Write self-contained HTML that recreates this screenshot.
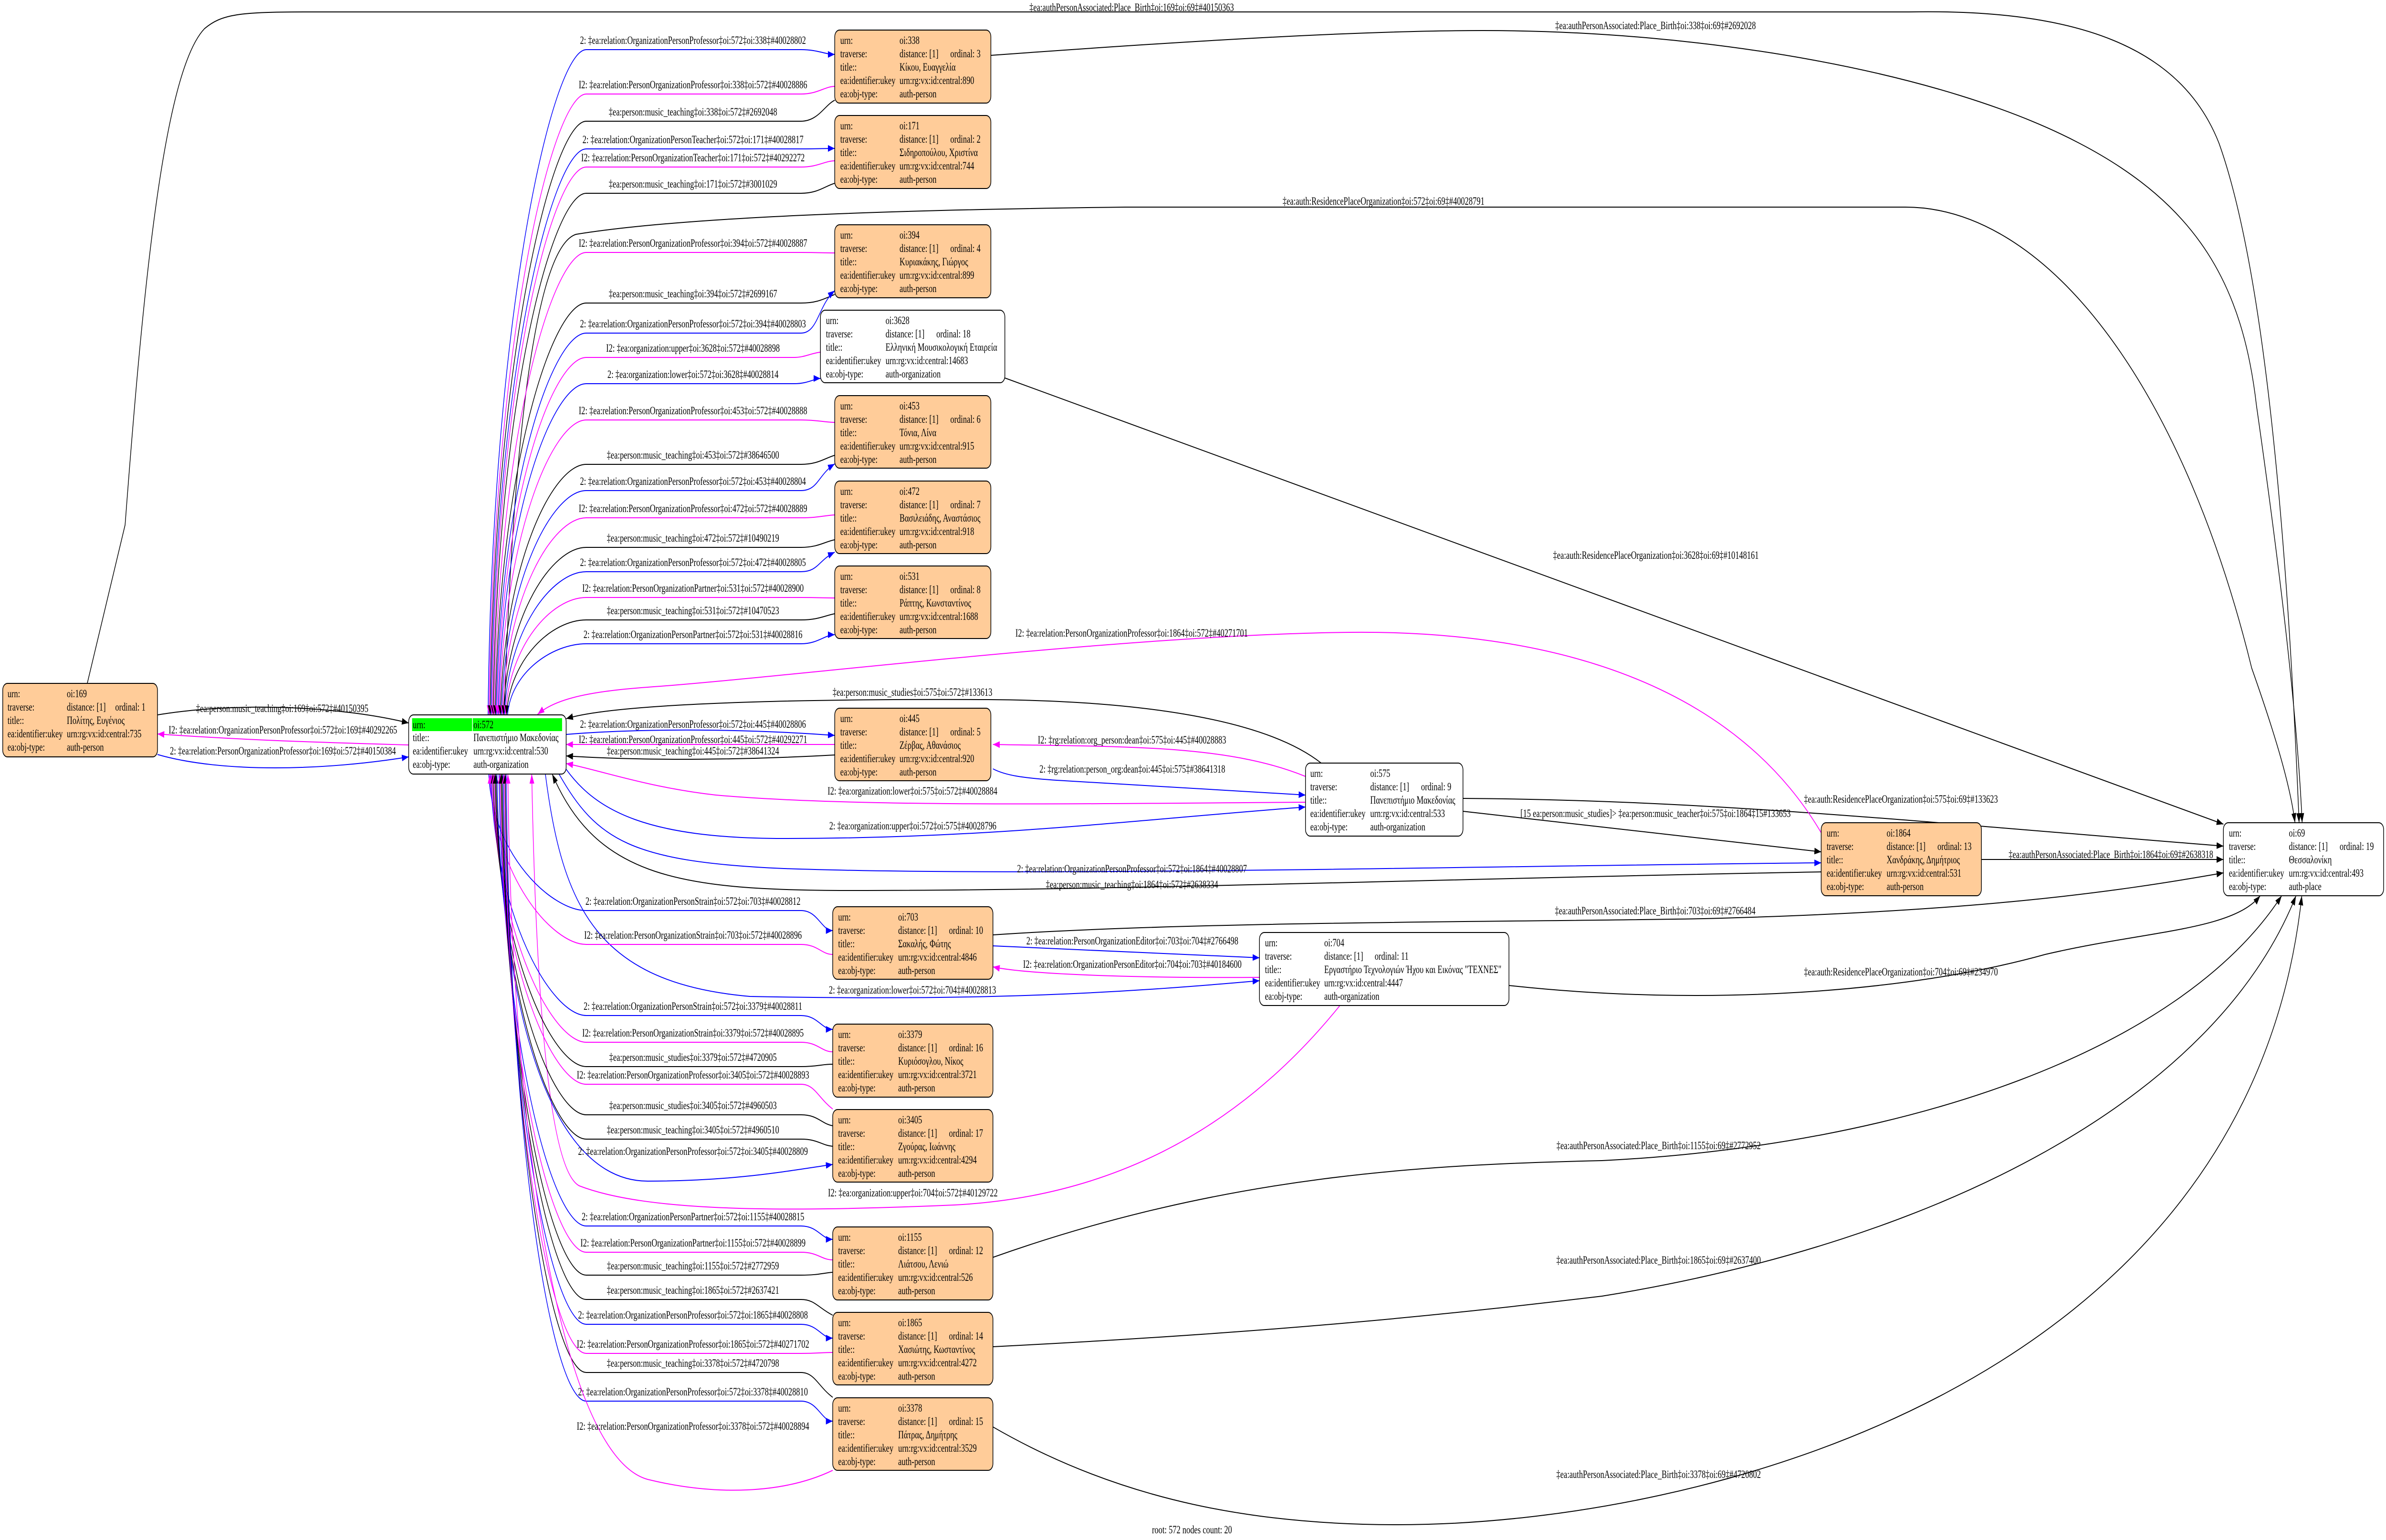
<!DOCTYPE html>
<html><head><meta charset="utf-8"><style>
html,body{margin:0;padding:0;background:#fff;width:100%;height:100%;overflow:hidden;}
svg{display:block;position:fixed;left:0;top:0;width:100vw;height:100vh;}
text{font-family:"Liberation Serif","DejaVu Serif",serif;font-size:23px;fill:#000;}
.l{text-anchor:middle;}
.e{fill:none;stroke-width:2;}
.k{stroke:#000;}.b{stroke:#0000ff;}.m{stroke:#ff00ff;}
.n{fill:#ffcc99;stroke:#000;stroke-width:2;}
.w{fill:#fff;stroke:#000;stroke-width:2;}
</style></head><body>
<svg viewBox="0 0 7000 3227" preserveAspectRatio="none" xmlns="http://www.w3.org/2000/svg" overflow="hidden">
<defs>
<marker id="ak" markerWidth="20" markerHeight="14" refX="20" refY="7" orient="auto" markerUnits="userSpaceOnUse"><path d="M0,0L20,7L0,14z" fill="#000"/></marker>
<marker id="ab" markerWidth="20" markerHeight="14" refX="20" refY="7" orient="auto" markerUnits="userSpaceOnUse"><path d="M0,0L20,7L0,14z" fill="#0000ff"/></marker>
<marker id="am" markerWidth="20" markerHeight="14" refX="20" refY="7" orient="auto" markerUnits="userSpaceOnUse"><path d="M0,0L20,7L0,14z" fill="#ff00ff"/></marker>
</defs>

<path class="e k" marker-end="url(#ak)" d="M256,1432 L367,1100 C420,600 480,150 600,60 C650,30 700,25 900,25 L5600,25 C6100,18 6400,100 6510,300 C6640,560 6710,1100 6745,1724"/>
<text class="l" x="3320" y="23">‡ea:authPersonAssociated:Place_Birth‡oi:169‡oi:69‡#40150363</text>
<path class="e k" marker-end="url(#ak)" d="M2907,116 C3500,85 4000,64 4350,64 C5000,64 5700,150 6100,300 C6450,430 6580,600 6620,850 C6690,1200 6740,1500 6754,1724"/>
<text class="l" x="4857" y="61">‡ea:authPersonAssociated:Place_Birth‡oi:338‡oi:69‡#2692028</text>
<path class="e k" marker-end="url(#ak)" d="M1480,1498 C1500,1000 1560,520 1690,491 C2000,455 2600,440 3300,434 L5590,434 C6000,434 6400,800 6606,1400 C6680,1550 6720,1650 6733,1724"/>
<text class="l" x="4059" y="429">‡ea:auth:ResidencePlaceOrganization‡oi:572‡oi:69‡#40028791</text>
<path class="e k" marker-end="url(#ak)" d="M2948,792 L6523,1727"/>
<text class="l" x="4858" y="1171">‡ea:auth:ResidencePlaceOrganization‡oi:3628‡oi:69‡#10148161</text>
<path class="e k" marker-end="url(#ak)" d="M4292,1673 C5000,1676 5600,1720 6523,1773"/>
<text class="l" x="5577" y="1682">‡ea:auth:ResidencePlaceOrganization‡oi:575‡oi:69‡#133623</text>
<path class="e k" marker-end="url(#ak)" d="M4292,1700 L5343,1785"/>
<text class="l" x="4857" y="1712">[15 ea:person:music_studies]&gt; ‡ea:person:music_teacher‡oi:575‡oi:1864‡15#133653</text>
<path class="e k" marker-end="url(#ak)" d="M5813,1801 L6523,1801"/>
<text class="l" x="6193" y="1798">‡ea:authPersonAssociated:Place_Birth‡oi:1864‡oi:69‡#2638318</text>
<path class="e k" marker-end="url(#ak)" d="M2913,1959 C3500,1930 4500,1932 5000,1925 C5800,1910 6200,1870 6523,1829"/>
<text class="l" x="4856" y="1916">‡ea:authPersonAssociated:Place_Birth‡oi:703‡oi:69‡#2766484</text>
<path class="e k" marker-end="url(#ak)" d="M4427,2065 C5000,2110 5600,2080 6000,2000 C6300,1950 6550,1950 6631,1877"/>
<text class="l" x="5577" y="2044">‡ea:auth:ResidencePlaceOrganization‡oi:704‡oi:69‡#234970</text>
<path class="e k" marker-end="url(#ak)" d="M2912,2635 C3600,2460 4200,2440 4700,2432 C5600,2400 6400,2200 6694,1877"/>
<text class="l" x="4866" y="2408">‡ea:authPersonAssociated:Place_Birth‡oi:1155‡oi:69‡#2772952</text>
<path class="e k" marker-end="url(#ak)" d="M2913,2822 C3800,2790 4300,2750 4700,2716 C5700,2600 6500,2300 6736,1877"/>
<text class="l" x="4866" y="2648">‡ea:authPersonAssociated:Place_Birth‡oi:1865‡oi:69‡#2637400</text>
<path class="e k" marker-end="url(#ak)" d="M2913,2990 C3300,3150 3700,3195 4100,3195 C5000,3195 6600,2900 6753,1877"/>
<text class="l" x="4866" y="3097">‡ea:authPersonAssociated:Place_Birth‡oi:3378‡oi:69‡#4720802</text>

<path class="e k" marker-end="url(#ak)" d="M462,1498 C700,1470 1000,1480 1199,1515"/>
<text class="l" x="828" y="1492">‡ea:person:music_teaching‡oi:169‡oi:572‡#40150395</text>
<path class="e m" marker-end="url(#am)" d="M1199,1561 C900,1555 700,1550 462,1538"/>
<text class="l" x="830" y="1537">I2: ‡ea:relation:OrganizationPersonProfessor‡oi:572‡oi:169‡#40292265</text>
<path class="e b" marker-end="url(#ab)" d="M462,1581 C650,1620 950,1615 1199,1586"/>
<text class="l" x="830" y="1581">2: ‡ea:relation:PersonOrganizationProfessor‡oi:169‡oi:572‡#40150384</text>

<path class="e b" marker-end="url(#ab)" d="M1432,1498 C1442,662 1620,104 1720,104 L2350,104 C2400,104 2420,114 2449,114"/>
<text class="l" x="2033" y="92">2: ‡ea:relation:OrganizationPersonProfessor‡oi:572‡oi:338‡#40028802</text>
<path class="e m" marker-end="url(#am)" d="M2449,181 C2420,181 2400,197 2350,197 L1720,197 C1620,197 1445,717 1435,1498"/>
<text class="l" x="2033" y="185">I2: ‡ea:relation:PersonOrganizationProfessor‡oi:338‡oi:572‡#40028886</text>
<path class="e k" marker-end="url(#ak)" d="M2449,210 C2420,220 2400,254 2350,254 L1720,254 C1620,254 1448,752 1438,1498"/>
<text class="l" x="2033" y="242">‡ea:person:music_teaching‡oi:338‡oi:572‡#2692048</text>
<path class="e b" marker-end="url(#ab)" d="M1441,1498 C1451,786 1620,312 1720,312 L2350,312 C2400,312 2420,311 2449,311"/>
<text class="l" x="2033" y="300">2: ‡ea:relation:OrganizationPersonTeacher‡oi:572‡oi:171‡#40028817</text>
<path class="e m" marker-end="url(#am)" d="M2449,337 C2420,337 2400,350 2350,350 L1720,350 C1620,350 1454,809 1444,1498"/>
<text class="l" x="2033" y="338">I2: ‡ea:relation:PersonOrganizationTeacher‡oi:171‡oi:572‡#40292272</text>
<path class="e k" marker-end="url(#ak)" d="M2449,384 C2420,390 2400,405 2350,405 L1720,405 C1620,405 1457,842 1447,1498"/>
<text class="l" x="2033" y="393">‡ea:person:music_teaching‡oi:171‡oi:572‡#3001029</text>
<path class="e m" marker-end="url(#am)" d="M2449,530 C2420,530 2400,529 2350,529 L1720,529 C1620,529 1460,917 1450,1498"/>
<text class="l" x="2033" y="517">I2: ‡ea:relation:PersonOrganizationProfessor‡oi:394‡oi:572‡#40028887</text>
<path class="e k" marker-end="url(#ak)" d="M2449,617 C2420,625 2400,635 2350,635 L1720,635 C1620,635 1463,980 1453,1498"/>
<text class="l" x="2033" y="623">‡ea:person:music_teaching‡oi:394‡oi:572‡#2699167</text>
<path class="e b" marker-end="url(#ab)" d="M1456,1498 C1466,1018 1620,698 1720,698 L2350,698 C2400,698 2400,640 2449,609"/>
<text class="l" x="2033" y="686">2: ‡ea:relation:OrganizationPersonProfessor‡oi:572‡oi:394‡#40028803</text>
<path class="e m" marker-end="url(#am)" d="M2407,738 C2380,740 2360,749 2330,749 L1720,749 C1620,749 1469,1049 1459,1498"/>
<text class="l" x="2033" y="737">I2: ‡ea:organization:upper‡oi:3628‡oi:572‡#40028898</text>
<path class="e b" marker-end="url(#ab)" d="M1462,1498 C1472,1082 1620,804 1720,804 L2330,804 C2370,804 2390,793 2407,793"/>
<text class="l" x="2033" y="792">2: ‡ea:organization:lower‡oi:572‡oi:3628‡#40028814</text>
<path class="e m" marker-end="url(#am)" d="M2449,885 C2420,885 2400,880 2350,880 L1720,880 C1620,880 1475,1127 1465,1498"/>
<text class="l" x="2033" y="868">I2: ‡ea:relation:PersonOrganizationProfessor‡oi:453‡oi:572‡#40028888</text>
<path class="e k" marker-end="url(#ak)" d="M2449,954 C2420,960 2400,973 2350,973 L1720,973 C1620,973 1478,1183 1468,1498"/>
<text class="l" x="2033" y="961">‡ea:person:music_teaching‡oi:453‡oi:572‡#38646500</text>
<path class="e b" marker-end="url(#ab)" d="M1471,1498 C1481,1216 1620,1028 1720,1028 L2350,1028 C2400,1028 2400,995 2449,972"/>
<text class="l" x="2033" y="1016">2: ‡ea:relation:OrganizationPersonProfessor‡oi:572‡oi:453‡#40028804</text>
<path class="e m" marker-end="url(#am)" d="M2449,1079 C2420,1080 2400,1085 2350,1085 L1720,1085 C1620,1085 1484,1250 1474,1498"/>
<text class="l" x="2033" y="1073">I2: ‡ea:relation:PersonOrganizationProfessor‡oi:472‡oi:572‡#40028889</text>
<path class="e k" marker-end="url(#ak)" d="M2449,1131 C2420,1135 2400,1147 2350,1147 L1720,1147 C1620,1147 1487,1287 1477,1498"/>
<text class="l" x="2033" y="1135">‡ea:person:music_teaching‡oi:472‡oi:572‡#10490219</text>
<path class="e b" marker-end="url(#ab)" d="M1480,1498 C1490,1318 1620,1198 1720,1198 L2350,1198 C2400,1198 2400,1175 2449,1157"/>
<text class="l" x="2033" y="1186">2: ‡ea:relation:OrganizationPersonProfessor‡oi:572‡oi:472‡#40028805</text>
<path class="e m" marker-end="url(#am)" d="M2449,1253 C2420,1253 2400,1252 2350,1252 L1720,1252 C1620,1252 1493,1350 1483,1498"/>
<text class="l" x="2033" y="1240">I2: ‡ea:relation:PersonOrganizationPartner‡oi:531‡oi:572‡#40028900</text>
<path class="e k" marker-end="url(#ak)" d="M2449,1286 C2420,1290 2400,1299 2350,1299 L1720,1299 C1620,1299 1496,1379 1486,1498"/>
<text class="l" x="2033" y="1287">‡ea:person:music_teaching‡oi:531‡oi:572‡#10470523</text>
<path class="e b" marker-end="url(#ab)" d="M1489,1498 C1499,1409 1620,1349 1720,1349 L2350,1349 C2400,1349 2420,1330 2449,1330"/>
<text class="l" x="2033" y="1337">2: ‡ea:relation:OrganizationPersonPartner‡oi:572‡oi:531‡#40028816</text>

<path class="e m" marker-end="url(#am)" d="M5343,1745 C5100,1450 4600,1320 3959,1325 C3300,1330 2300,1420 1900,1440 C1700,1450 1620,1470 1577,1497"/>
<text class="l" x="3320" y="1334">I2: ‡ea:relation:PersonOrganizationProfessor‡oi:1864‡oi:572‡#40271701</text>
<path class="e k" marker-end="url(#ak)" d="M3876,1599 C3700,1500 3300,1468 2900,1466 C2300,1464 1800,1475 1661,1506"/>
<text class="l" x="2677" y="1458">‡ea:person:music_studies‡oi:575‡oi:572‡#133613</text>
<path class="e b" marker-end="url(#ab)" d="M1661,1539 C1900,1525 2200,1528 2449,1541"/>
<text class="l" x="2033" y="1525">2: ‡ea:relation:OrganizationPersonProfessor‡oi:572‡oi:445‡#40028806</text>
<path class="e m" marker-end="url(#am)" d="M2449,1560 L1661,1560"/>
<text class="l" x="2033" y="1557">I2: ‡ea:relation:PersonOrganizationProfessor‡oi:445‡oi:572‡#40292271</text>
<path class="e k" marker-end="url(#ak)" d="M2449,1582 C2200,1592 1900,1595 1661,1584"/>
<text class="l" x="2033" y="1581">‡ea:person:music_teaching‡oi:445‡oi:572‡#38641324</text>
<path class="e m" marker-end="url(#am)" d="M3830,1627 C3600,1560 3300,1565 2913,1560"/>
<text class="l" x="3321" y="1558">I2: ‡rg:relation:org_person:dean‡oi:575‡oi:445‡#40028883</text>
<path class="e b" marker-end="url(#ab)" d="M2913,1611 C2950,1625 3000,1630 3100,1635 L3830,1666"/>
<text class="l" x="3322" y="1619">2: ‡rg:relation:person_org:dean‡oi:445‡oi:575‡#38641318</text>
<path class="e m" marker-end="url(#am)" d="M3830,1681 C3200,1684 2500,1692 2100,1666 C1900,1650 1750,1612 1661,1600"/>
<text class="l" x="2677" y="1665">I2: ‡ea:organization:lower‡oi:575‡oi:572‡#40028884</text>
<path class="e b" marker-end="url(#ab)" d="M1661,1612 C1750,1700 1900,1757 2300,1757 C2900,1757 3300,1720 3830,1691"/>
<text class="l" x="2678" y="1738">2: ‡ea:organization:upper‡oi:572‡oi:575‡#40028796</text>
<path class="e b" marker-end="url(#ab)" d="M1640,1622 C1750,1760 1850,1806 2300,1820 C3000,1838 4300,1815 5343,1808"/>
<text class="l" x="3321" y="1828">2: ‡ea:relation:OrganizationPersonProfessor‡oi:572‡oi:1864‡#40028807</text>
<path class="e k" marker-end="url(#ak)" d="M5343,1827 C4300,1840 3300,1866 2500,1866 C2000,1866 1750,1840 1620,1622"/>
<text class="l" x="3321" y="1861">‡ea:person:music_teaching‡oi:1864‡oi:572‡#2638334</text>
<path class="e b" marker-end="url(#ab)" d="M2913,1982 L3695,2007"/>
<text class="l" x="3322" y="1979">2: ‡ea:relation:PersonOrganizationEditor‡oi:703‡oi:704‡#2766498</text>
<path class="e m" marker-end="url(#am)" d="M3695,2048 C3300,2050 3000,2040 2913,2026"/>
<text class="l" x="3322" y="2028">I2: ‡ea:relation:OrganizationPersonEditor‡oi:704‡oi:703‡#40184600</text>
<path class="e b" marker-end="url(#ab)" d="M1600,1622 C1650,1900 1750,2060 2200,2088 C2900,2098 3300,2080 3695,2055"/>
<text class="l" x="2677" y="2082">2: ‡ea:organization:lower‡oi:572‡oi:704‡#40028813</text>
<path class="e m" marker-end="url(#am)" d="M3931,2107 C3600,2400 3200,2510 2800,2525 C2300,2540 1900,2540 1700,2485 C1600,2450 1570,2000 1560,1622"/>
<text class="l" x="2678" y="2507">I2: ‡ea:organization:upper‡oi:704‡oi:572‡#40129722</text>

<path class="e b" marker-end="url(#ab)" d="M1434,1622 C1444,1794 1620,1908 1720,1908 L2350,1908 C2400,1908 2410,1950 2443,1950"/>
<text class="l" x="2033" y="1896">2: ‡ea:relation:OrganizationPersonStrain‡oi:572‡oi:703‡#40028812</text>
<path class="e m" marker-end="url(#am)" d="M2443,2000 C2410,2000 2400,1979 2350,1979 L1720,1979 C1620,1979 1447,1836 1437,1622"/>
<text class="l" x="2033" y="1967">I2: ‡ea:relation:PersonOrganizationStrain‡oi:703‡oi:572‡#40028896</text>
<path class="e b" marker-end="url(#ab)" d="M1440,1622 C1450,1926 1620,2128 1720,2128 L2350,2128 C2400,2128 2410,2157 2443,2157"/>
<text class="l" x="2033" y="2116">2: ‡ea:relation:OrganizationPersonStrain‡oi:572‡oi:3379‡#40028811</text>
<path class="e m" marker-end="url(#am)" d="M2443,2204 C2410,2204 2400,2184 2350,2184 L1720,2184 C1620,2184 1453,1959 1443,1622"/>
<text class="l" x="2033" y="2172">I2: ‡ea:relation:PersonOrganizationStrain‡oi:3379‡oi:572‡#40028895</text>
<path class="e k" marker-end="url(#ak)" d="M2443,2230 C2410,2230 2400,2235 2350,2235 L1720,2235 C1620,2235 1456,1990 1446,1622"/>
<text class="l" x="2033" y="2223">‡ea:person:music_studies‡oi:3379‡oi:572‡#4720905</text>
<path class="e m" marker-end="url(#am)" d="M2443,2324 C2400,2300 2390,2272 2350,2272 L1720,2272 C1620,2272 1459,2012 1449,1622"/>
<text class="l" x="2033" y="2260">I2: ‡ea:relation:PersonOrganizationProfessor‡oi:3405‡oi:572‡#40028893</text>
<path class="e k" marker-end="url(#ak)" d="M2443,2359 C2410,2355 2400,2336 2350,2336 L1720,2336 C1620,2336 1462,2050 1452,1622"/>
<text class="l" x="2033" y="2324">‡ea:person:music_studies‡oi:3405‡oi:572‡#4960503</text>
<path class="e k" marker-end="url(#ak)" d="M2443,2402 C2410,2400 2400,2387 2350,2387 L1720,2387 C1620,2387 1465,2081 1455,1622"/>
<text class="l" x="2033" y="2375">‡ea:person:music_teaching‡oi:3405‡oi:572‡#4960510</text>
<path class="e b" marker-end="url(#ab)" d="M1458,1622 C1468,2134 1620,2475 1900,2475 C2150,2475 2300,2455 2443,2440"/>
<text class="l" x="2033" y="2420">2: ‡ea:relation:OrganizationPersonProfessor‡oi:572‡oi:3405‡#40028809</text>
<path class="e b" marker-end="url(#ab)" d="M1464,1622 C1474,2190 1620,2569 1720,2569 L2350,2569 C2400,2569 2410,2597 2443,2597"/>
<text class="l" x="2033" y="2557">2: ‡ea:relation:OrganizationPersonPartner‡oi:572‡oi:1155‡#40028815</text>
<path class="e m" marker-end="url(#am)" d="M2443,2640 C2410,2640 2400,2624 2350,2624 L1720,2624 C1620,2624 1477,2223 1467,1622"/>
<text class="l" x="2033" y="2612">I2: ‡ea:relation:PersonOrganizationPartner‡oi:1155‡oi:572‡#40028899</text>
<path class="e k" marker-end="url(#ak)" d="M2443,2666 C2410,2668 2400,2672 2350,2672 L1720,2672 C1620,2672 1480,2252 1470,1622"/>
<text class="l" x="2033" y="2660">‡ea:person:music_teaching‡oi:1155‡oi:572‡#2772959</text>
<path class="e k" marker-end="url(#ak)" d="M2443,2756 C2400,2740 2390,2723 2350,2723 L1720,2723 C1620,2723 1483,2283 1473,1622"/>
<text class="l" x="2033" y="2711">‡ea:person:music_teaching‡oi:1865‡oi:572‡#2637421</text>
<path class="e b" marker-end="url(#ab)" d="M1476,1622 C1486,2314 1620,2775 1720,2775 L2350,2775 C2400,2775 2410,2804 2443,2804"/>
<text class="l" x="2033" y="2763">2: ‡ea:relation:OrganizationPersonProfessor‡oi:572‡oi:1865‡#40028808</text>
<path class="e m" marker-end="url(#am)" d="M2443,2834 C2410,2834 2400,2836 2350,2836 L1720,2836 C1620,2836 1489,2350 1479,1622"/>
<text class="l" x="2033" y="2824">I2: ‡ea:relation:PersonOrganizationProfessor‡oi:1865‡oi:572‡#40271702</text>
<path class="e k" marker-end="url(#ak)" d="M2443,2928 C2400,2905 2390,2876 2350,2876 L1720,2876 C1620,2876 1492,2374 1482,1622"/>
<text class="l" x="2033" y="2864">‡ea:person:music_teaching‡oi:3378‡oi:572‡#4720798</text>
<path class="e b" marker-end="url(#ab)" d="M1485,1622 C1495,2410 1620,2936 1720,2936 L2350,2936 C2400,2936 2410,2978 2443,2978"/>
<text class="l" x="2033" y="2924">2: ‡ea:relation:OrganizationPersonProfessor‡oi:572‡oi:3378‡#40028810</text>
<path class="e m" marker-end="url(#am)" d="M2443,3081 C2300,3130 2100,3135 1900,3100 C1650,3050 1500,2400 1490,1622"/>
<text class="l" x="2033" y="2996">I2: ‡ea:relation:PersonOrganizationProfessor‡oi:3378‡oi:572‡#40028894</text>

<g transform="translate(8,1432)"><rect class="n" width="454" height="154" rx="14"/>
<text x="14" y="29">urn:</text><text x="188" y="29">oi:169</text>
<text x="14" y="57">traverse:</text><text x="188" y="57">distance: [1]</text><text x="330" y="57">ordinal: 1</text>
<text x="14" y="85">title::</text><text x="188" y="85">Πολίτης, Ευγένιος</text>
<text x="14" y="113">ea:identifier:ukey</text><text x="188" y="113">urn:rg:vx:id:central:735</text>
<text x="14" y="141">ea:obj-type:</text><text x="188" y="141">auth-person</text></g>

<g transform="translate(1199,1498)"><rect class="w" width="462" height="124" rx="14"/>
<rect x="10" y="7" width="440" height="27" fill="#00ff00"/><rect x="186" y="7" width="2" height="27" fill="#fff"/>
<text x="12" y="28">urn:</text><text x="190" y="28">oi:572</text>
<text x="12" y="55">title::</text><text x="190" y="55">Πανεπιστήμιο Μακεδονίας</text>
<text x="12" y="83">ea:identifier:ukey</text><text x="190" y="83">urn:rg:vx:id:central:530</text>
<text x="12" y="111">ea:obj-type:</text><text x="190" y="111">auth-organization</text></g>

<g transform="translate(2449,63)"><rect class="n" width="458" height="153" rx="14"/>
<text x="16" y="29">urn:</text><text x="190" y="29">oi:338</text>
<text x="16" y="57">traverse:</text><text x="190" y="57">distance: [1]</text><text x="339" y="57">ordinal: 3</text>
<text x="16" y="85">title::</text><text x="190" y="85">Κίκου, Ευαγγελία</text>
<text x="16" y="113">ea:identifier:ukey</text><text x="190" y="113">urn:rg:vx:id:central:890</text>
<text x="16" y="141">ea:obj-type:</text><text x="190" y="141">auth-person</text></g>

<g transform="translate(2449,242)"><rect class="n" width="458" height="153" rx="14"/>
<text x="16" y="29">urn:</text><text x="190" y="29">oi:171</text>
<text x="16" y="57">traverse:</text><text x="190" y="57">distance: [1]</text><text x="339" y="57">ordinal: 2</text>
<text x="16" y="85">title::</text><text x="190" y="85">Σιδηροπούλου, Χριστίνα</text>
<text x="16" y="113">ea:identifier:ukey</text><text x="190" y="113">urn:rg:vx:id:central:744</text>
<text x="16" y="141">ea:obj-type:</text><text x="190" y="141">auth-person</text></g>

<g transform="translate(2449,471)"><rect class="n" width="458" height="153" rx="14"/>
<text x="16" y="29">urn:</text><text x="190" y="29">oi:394</text>
<text x="16" y="57">traverse:</text><text x="190" y="57">distance: [1]</text><text x="339" y="57">ordinal: 4</text>
<text x="16" y="85">title::</text><text x="190" y="85">Κυριακάκης, Γιώργος</text>
<text x="16" y="113">ea:identifier:ukey</text><text x="190" y="113">urn:rg:vx:id:central:899</text>
<text x="16" y="141">ea:obj-type:</text><text x="190" y="141">auth-person</text></g>

<g transform="translate(2407,650)"><rect class="w" width="541" height="152" rx="14"/>
<text x="16" y="29">urn:</text><text x="191" y="29">oi:3628</text>
<text x="16" y="57">traverse:</text><text x="191" y="57">distance: [1]</text><text x="340" y="57">ordinal: 18</text>
<text x="16" y="85">title::</text><text x="191" y="85">Ελληνική Μουσικολογική Εταιρεία</text>
<text x="16" y="113">ea:identifier:ukey</text><text x="191" y="113">urn:rg:vx:id:central:14683</text>
<text x="16" y="141">ea:obj-type:</text><text x="191" y="141">auth-organization</text></g>

<g transform="translate(2449,829)"><rect class="n" width="458" height="152" rx="14"/>
<text x="16" y="29">urn:</text><text x="190" y="29">oi:453</text>
<text x="16" y="57">traverse:</text><text x="190" y="57">distance: [1]</text><text x="339" y="57">ordinal: 6</text>
<text x="16" y="85">title::</text><text x="190" y="85">Τόνια, Λίνα</text>
<text x="16" y="113">ea:identifier:ukey</text><text x="190" y="113">urn:rg:vx:id:central:915</text>
<text x="16" y="141">ea:obj-type:</text><text x="190" y="141">auth-person</text></g>

<g transform="translate(2449,1008)"><rect class="n" width="458" height="152" rx="14"/>
<text x="16" y="29">urn:</text><text x="190" y="29">oi:472</text>
<text x="16" y="57">traverse:</text><text x="190" y="57">distance: [1]</text><text x="339" y="57">ordinal: 7</text>
<text x="16" y="85">title::</text><text x="190" y="85">Βασιλειάδης, Αναστάσιος</text>
<text x="16" y="113">ea:identifier:ukey</text><text x="190" y="113">urn:rg:vx:id:central:918</text>
<text x="16" y="141">ea:obj-type:</text><text x="190" y="141">auth-person</text></g>

<g transform="translate(2449,1186)"><rect class="n" width="458" height="152" rx="14"/>
<text x="16" y="29">urn:</text><text x="190" y="29">oi:531</text>
<text x="16" y="57">traverse:</text><text x="190" y="57">distance: [1]</text><text x="339" y="57">ordinal: 8</text>
<text x="16" y="85">title::</text><text x="190" y="85">Ράπτης, Κωνσταντίνος</text>
<text x="16" y="113">ea:identifier:ukey</text><text x="190" y="113">urn:rg:vx:id:central:1688</text>
<text x="16" y="141">ea:obj-type:</text><text x="190" y="141">auth-person</text></g>

<g transform="translate(2449,1484)"><rect class="n" width="458" height="152" rx="14"/>
<text x="16" y="29">urn:</text><text x="190" y="29">oi:445</text>
<text x="16" y="57">traverse:</text><text x="190" y="57">distance: [1]</text><text x="339" y="57">ordinal: 5</text>
<text x="16" y="85">title::</text><text x="190" y="85">Ζέρβας, Αθανάσιος</text>
<text x="16" y="113">ea:identifier:ukey</text><text x="190" y="113">urn:rg:vx:id:central:920</text>
<text x="16" y="141">ea:obj-type:</text><text x="190" y="141">auth-person</text></g>

<g transform="translate(2443,1900)"><rect class="n" width="470" height="152" rx="14"/>
<text x="16" y="29">urn:</text><text x="192" y="29">oi:703</text>
<text x="16" y="57">traverse:</text><text x="192" y="57">distance: [1]</text><text x="341" y="57">ordinal: 10</text>
<text x="16" y="85">title::</text><text x="192" y="85">Σακαλής, Φώτης</text>
<text x="16" y="113">ea:identifier:ukey</text><text x="192" y="113">urn:rg:vx:id:central:4846</text>
<text x="16" y="141">ea:obj-type:</text><text x="192" y="141">auth-person</text></g>

<g transform="translate(2443,2146)"><rect class="n" width="470" height="153" rx="14"/>
<text x="16" y="29">urn:</text><text x="192" y="29">oi:3379</text>
<text x="16" y="57">traverse:</text><text x="192" y="57">distance: [1]</text><text x="341" y="57">ordinal: 16</text>
<text x="16" y="85">title::</text><text x="192" y="85">Κυριόσογλου, Νίκος</text>
<text x="16" y="113">ea:identifier:ukey</text><text x="192" y="113">urn:rg:vx:id:central:3721</text>
<text x="16" y="141">ea:obj-type:</text><text x="192" y="141">auth-person</text></g>

<g transform="translate(2443,2325)"><rect class="n" width="470" height="152" rx="14"/>
<text x="16" y="29">urn:</text><text x="192" y="29">oi:3405</text>
<text x="16" y="57">traverse:</text><text x="192" y="57">distance: [1]</text><text x="341" y="57">ordinal: 17</text>
<text x="16" y="85">title::</text><text x="192" y="85">Ζγούρας, Ιωάννης</text>
<text x="16" y="113">ea:identifier:ukey</text><text x="192" y="113">urn:rg:vx:id:central:4294</text>
<text x="16" y="141">ea:obj-type:</text><text x="192" y="141">auth-person</text></g>

<g transform="translate(2443,2571)"><rect class="n" width="470" height="153" rx="14"/>
<text x="16" y="29">urn:</text><text x="192" y="29">oi:1155</text>
<text x="16" y="57">traverse:</text><text x="192" y="57">distance: [1]</text><text x="341" y="57">ordinal: 12</text>
<text x="16" y="85">title::</text><text x="192" y="85">Λιάτσου, Λενιώ</text>
<text x="16" y="113">ea:identifier:ukey</text><text x="192" y="113">urn:rg:vx:id:central:526</text>
<text x="16" y="141">ea:obj-type:</text><text x="192" y="141">auth-person</text></g>

<g transform="translate(2443,2750)"><rect class="n" width="470" height="152" rx="14"/>
<text x="16" y="29">urn:</text><text x="192" y="29">oi:1865</text>
<text x="16" y="57">traverse:</text><text x="192" y="57">distance: [1]</text><text x="341" y="57">ordinal: 14</text>
<text x="16" y="85">title::</text><text x="192" y="85">Χασιώτης, Κωσταντίνος</text>
<text x="16" y="113">ea:identifier:ukey</text><text x="192" y="113">urn:rg:vx:id:central:4272</text>
<text x="16" y="141">ea:obj-type:</text><text x="192" y="141">auth-person</text></g>

<g transform="translate(2443,2929)"><rect class="n" width="470" height="152" rx="14"/>
<text x="16" y="29">urn:</text><text x="192" y="29">oi:3378</text>
<text x="16" y="57">traverse:</text><text x="192" y="57">distance: [1]</text><text x="341" y="57">ordinal: 15</text>
<text x="16" y="85">title::</text><text x="192" y="85">Πάτρας, Δημήτρης</text>
<text x="16" y="113">ea:identifier:ukey</text><text x="192" y="113">urn:rg:vx:id:central:3529</text>
<text x="16" y="141">ea:obj-type:</text><text x="192" y="141">auth-person</text></g>

<g transform="translate(3830,1599)"><rect class="w" width="462" height="153" rx="14"/>
<text x="14" y="29">urn:</text><text x="190" y="29">oi:575</text>
<text x="14" y="57">traverse:</text><text x="190" y="57">distance: [1]</text><text x="339" y="57">ordinal: 9</text>
<text x="14" y="85">title::</text><text x="190" y="85">Πανεπιστήμιο Μακεδονίας</text>
<text x="14" y="113">ea:identifier:ukey</text><text x="190" y="113">urn:rg:vx:id:central:533</text>
<text x="14" y="141">ea:obj-type:</text><text x="190" y="141">auth-organization</text></g>

<g transform="translate(3695,1954)"><rect class="w" width="732" height="153" rx="14"/>
<text x="16" y="29">urn:</text><text x="190" y="29">oi:704</text>
<text x="16" y="57">traverse:</text><text x="190" y="57">distance: [1]</text><text x="338" y="57">ordinal: 11</text>
<text x="16" y="85">title::</text><text x="190" y="85">Εργαστήριο Τεχνολογιών Ήχου και Εικόνας "ΤΕΧΝΕΣ"</text>
<text x="16" y="113">ea:identifier:ukey</text><text x="190" y="113">urn:rg:vx:id:central:4447</text>
<text x="16" y="141">ea:obj-type:</text><text x="190" y="141">auth-organization</text></g>

<g transform="translate(5343,1724)"><rect class="n" width="470" height="153" rx="14"/>
<text x="16" y="29">urn:</text><text x="192" y="29">oi:1864</text>
<text x="16" y="57">traverse:</text><text x="192" y="57">distance: [1]</text><text x="341" y="57">ordinal: 13</text>
<text x="16" y="85">title::</text><text x="192" y="85">Χανδράκης, Δημήτριος</text>
<text x="16" y="113">ea:identifier:ukey</text><text x="192" y="113">urn:rg:vx:id:central:531</text>
<text x="16" y="141">ea:obj-type:</text><text x="192" y="141">auth-person</text></g>

<g transform="translate(6523,1724)"><rect class="w" width="470" height="153" rx="14"/>
<text x="16" y="29">urn:</text><text x="192" y="29">oi:69</text>
<text x="16" y="57">traverse:</text><text x="192" y="57">distance: [1]</text><text x="341" y="57">ordinal: 19</text>
<text x="16" y="85">title::</text><text x="192" y="85">Θεσσαλονίκη</text>
<text x="16" y="113">ea:identifier:ukey</text><text x="192" y="113">urn:rg:vx:id:central:493</text>
<text x="16" y="141">ea:obj-type:</text><text x="192" y="141">auth-place</text></g>

<text class="l" x="3497" y="3213">root: 572 nodes count: 20</text>
</svg>
</body></html>
